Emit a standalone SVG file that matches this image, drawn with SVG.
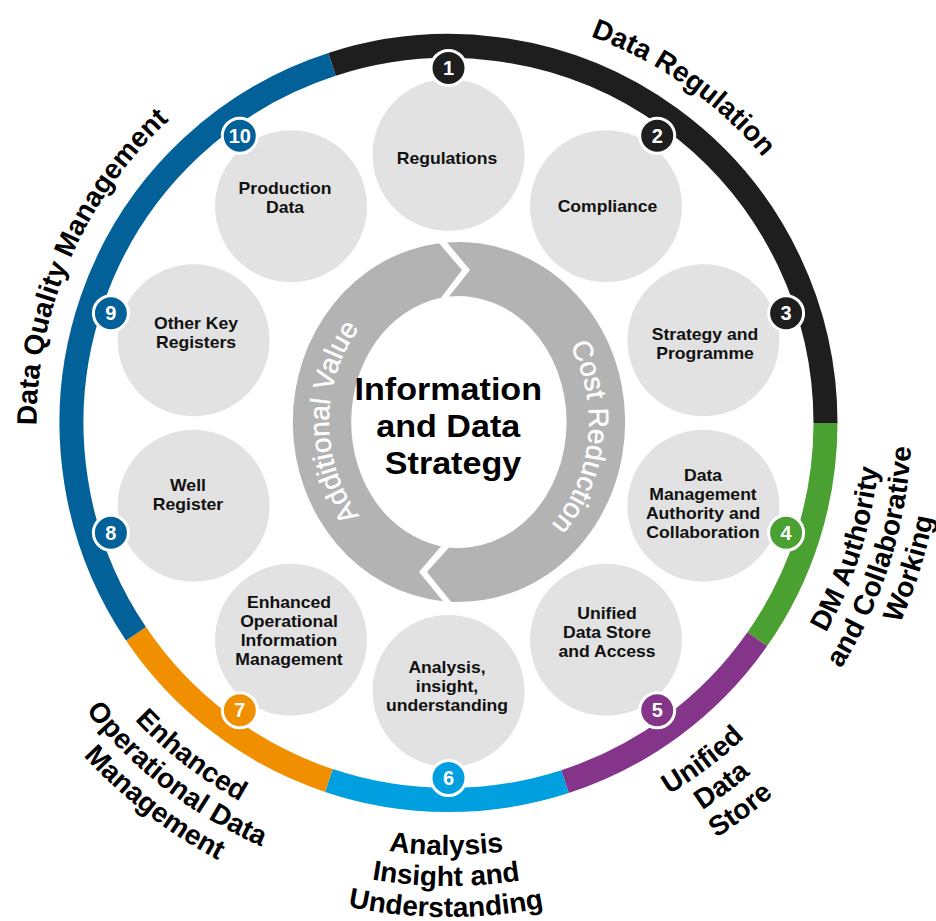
<svg xmlns="http://www.w3.org/2000/svg" width="936" height="921" viewBox="0 0 936 921">
  <style>
    .seg { fill: none; stroke-width: 24; stroke-linecap: butt; }
    .disc { fill: #e2e2e2; }
    .lbl { font-family: "Liberation Sans", Arial, sans-serif; font-weight: bold; font-size: 16px; fill: #111; text-anchor: middle; }
    .title { font-family: "Liberation Sans", Arial, sans-serif; font-weight: bold; font-size: 31px; fill: #000; text-anchor: middle; }
    .badge circle { stroke: #fff; stroke-width: 3; }
    .badge text { font-family: "Liberation Sans", Arial, sans-serif; font-weight: bold; font-size: 20px; fill: #fff; text-anchor: middle; }
    .arc-lbl { font-family: "Liberation Sans", Arial, sans-serif; font-weight: bold; font-size: 28px; fill: #000; }
    .cyc { fill: #b3b3b3; }
    .cyc-lbl { font-family: "Liberation Sans", Arial, sans-serif; font-size: 28px; fill: #fff; stroke: #fff; stroke-width: 0.4; }
  </style>
  <defs>
    <!-- clockwise baselines, glyph tops outward -->
    <path id="p-reg" d="M 412.6 12.6 A 412 412 0 0 1 846.4 316.4"/>
    <path id="p-dqm" d="M 79.8 606.8 A 412 412 0 0 1 331.5 28.0"/>
    <!-- counter-clockwise baselines, glyph tops inward -->
    <path id="p-dm1" d="M 680.6 787.3 A 432 432 0 0 0 847.6 257.7"/>
    <path id="p-dm2" d="M 697.3 813.5 A 463 463 0 0 0 876.3 245.8"/>
    <path id="p-dm3" d="M 713.9 839.6 A 494 494 0 0 0 904.9 234.0"/>
    <path id="p-uds1" d="M 425.9 854.4 A 432 432 0 0 0 869.4 520.2"/>
    <path id="p-uds2" d="M 424.3 885.4 A 463 463 0 0 0 899.6 527.2"/>
    <path id="p-uds3" d="M 422.6 916.3 A 494 494 0 0 0 929.8 534.1"/>
    <path id="p-ais1" d="M 169.1 752.5 A 432 432 0 0 0 724.4 755.4"/>
    <path id="p-ais2" d="M 149.0 776.1 A 463 463 0 0 0 744.2 779.2"/>
    <path id="p-ais3" d="M 129.0 799.8 A 494 494 0 0 0 764.1 803.1"/>
    <path id="p-eod1" d="M 26.4 515.0 A 432 432 0 0 0 465.8 854.7"/>
    <path id="p-eod2" d="M -3.9 521.6 A 463 463 0 0 0 467.1 885.6"/>
    <path id="p-eod3" d="M -34.2 528.2 A 494 494 0 0 0 468.3 916.6"/>
    <!-- baselines inside the central cycle -->
    <path id="p-add" d="M 394 548.4 A 130 146 0 0 1 394 295.6"/>
    <path id="p-cost" d="M 537.2 305.4 A 130 146 0 0 1 509.8 556.4"/>
  </defs>

  <!-- outer coloured ring -->
  <g id="ring">
    <path class="seg" stroke="#1e1e1e" d="M 332.0 64.4 A 377 377 0 0 1 825.5 423"/>
    <path class="seg" stroke="#4ba032" d="M 825.5 423 A 377 377 0 0 1 757.3 639.2"/>
    <path class="seg" stroke="#84358a" d="M 757.3 639.2 A 377 377 0 0 1 565.0 781.6"/>
    <path class="seg" stroke="#009fe0" d="M 565.0 781.6 A 377 377 0 0 1 328.9 780.5"/>
    <path class="seg" stroke="#f09000" d="M 328.9 780.5 A 377 377 0 0 1 136.0 633.8"/>
    <path class="seg" stroke="#03619a" d="M 136.0 633.8 A 377 377 0 0 1 332.0 64.4"/>
  </g>

  <!-- ring headings -->
  <g id="headings" class="arc-lbl">
    <text><textPath href="#p-reg" startOffset="50%" text-anchor="middle">Data Regulation</textPath></text>
    <text><textPath href="#p-dqm" startOffset="50%" text-anchor="middle">Data Quality Management</textPath></text>
    <text><textPath href="#p-dm1" startOffset="50%" text-anchor="middle">DM Authority</textPath></text>
    <text><textPath href="#p-dm2" startOffset="50%" text-anchor="middle">and Collaborative</textPath></text>
    <text><textPath href="#p-dm3" startOffset="50%" text-anchor="middle">Working</textPath></text>
    <text><textPath href="#p-uds1" startOffset="50%" text-anchor="middle">Unified</textPath></text>
    <text><textPath href="#p-uds2" startOffset="50%" text-anchor="middle">Data</textPath></text>
    <text><textPath href="#p-uds3" startOffset="50%" text-anchor="middle">Store</textPath></text>
    <text><textPath href="#p-ais1" startOffset="50%" text-anchor="middle">Analysis</textPath></text>
    <text><textPath href="#p-ais2" startOffset="50%" text-anchor="middle">Insight and</textPath></text>
    <text><textPath href="#p-ais3" startOffset="50%" text-anchor="middle">Understanding</textPath></text>
    <text><textPath href="#p-eod1" startOffset="50%" text-anchor="middle">Enhanced</textPath></text>
    <text><textPath href="#p-eod2" startOffset="50%" text-anchor="middle">Operational Data</textPath></text>
    <text><textPath href="#p-eod3" startOffset="50%" text-anchor="middle">Management</textPath></text>
  </g>

  <!-- central cycle of two chevron arrows -->
  <g id="cycle">
    <path class="cyc" d="M 447 242.5 A 166 180 0 1 1 451 601.8 L 427 572 L 449 547.5 A 108 126 0 1 0 449 296.5 L 470 270 Z"/>
    <path class="cyc" d="M 443 601.2 A 166 180 0 0 1 439 243.3 L 462 270 L 441 297.8 A 108 126 0 0 0 441 546.2 L 419 572 Z"/>
    <text class="cyc-lbl"><textPath href="#p-add" startOffset="50%" text-anchor="middle">Additional Value</textPath></text>
    <text class="cyc-lbl"><textPath href="#p-cost" startOffset="50%" text-anchor="middle">Cost Reduction</textPath></text>
  </g>

  <g id="title">
    <text class="title" transform="translate(453 0) scale(1.1 1)">
      <tspan x="0" y="400">Information</tspan>
      <tspan x="0" y="437">and Data</tspan>
      <tspan x="0" y="474">Strategy</tspan>
    </text>
  </g>

  <!-- numbered topic nodes -->
  <g id="node-1">
    <circle class="disc" cx="448.5" cy="155" r="76"/>
    <text class="lbl" transform="translate(447 0) scale(1.1 1)"><tspan x="0" y="164">Regulations</tspan></text>
    <g class="badge"><circle cx="448.5" cy="68" r="17.5" fill="#1e1e1e"/><text x="448.5" y="75">1</text></g>
  </g>
  <g id="node-2">
    <circle class="disc" cx="606" cy="206.2" r="76"/>
    <text class="lbl" transform="translate(607.5 0) scale(1.1 1)"><tspan x="0" y="212">Compliance</tspan></text>
    <g class="badge"><circle cx="657.2" cy="135.8" r="17.5" fill="#1e1e1e"/><text x="657.2" y="142.8">2</text></g>
  </g>
  <g id="node-3">
    <circle class="disc" cx="703.4" cy="340.2" r="76"/>
    <text class="lbl" transform="translate(705 0) scale(1.1 1)"><tspan x="0" y="340">Strategy and</tspan><tspan x="0" y="359">Programme</tspan></text>
    <g class="badge"><circle cx="786.1" cy="313.3" r="17.5" fill="#1e1e1e"/><text x="786.1" y="320.3">3</text></g>
  </g>
  <g id="node-4">
    <circle class="disc" cx="703.4" cy="505.8" r="76"/>
    <text class="lbl" transform="translate(703 0) scale(1.1 1)"><tspan x="0" y="481">Data</tspan><tspan x="0" y="500">Management</tspan><tspan x="0" y="519">Authority and</tspan><tspan x="0" y="538">Collaboration</tspan></text>
    <g class="badge"><circle cx="786.1" cy="532.7" r="17.5" fill="#4ba032"/><text x="786.1" y="539.7">4</text></g>
  </g>
  <g id="node-5">
    <circle class="disc" cx="606" cy="639.8" r="76"/>
    <text class="lbl" transform="translate(607 0) scale(1.1 1)"><tspan x="0" y="619">Unified</tspan><tspan x="0" y="638">Data Store</tspan><tspan x="0" y="657">and Access</tspan></text>
    <g class="badge"><circle cx="657.2" cy="710.2" r="17.5" fill="#84358a"/><text x="657.2" y="717.2">5</text></g>
  </g>
  <g id="node-6">
    <circle class="disc" cx="448.5" cy="691" r="76"/>
    <text class="lbl" transform="translate(447 0) scale(1.1 1)"><tspan x="0" y="673">Analysis,</tspan><tspan x="0" y="692">insight,</tspan><tspan x="0" y="711">understanding</tspan></text>
    <g class="badge"><circle cx="448.5" cy="778" r="17.5" fill="#009fe0"/><text x="448.5" y="785">6</text></g>
  </g>
  <g id="node-7">
    <circle class="disc" cx="291" cy="639.8" r="76"/>
    <text class="lbl" transform="translate(289 0) scale(1.1 1)"><tspan x="0" y="608">Enhanced</tspan><tspan x="0" y="627">Operational</tspan><tspan x="0" y="646">Information</tspan><tspan x="0" y="665">Management</tspan></text>
    <g class="badge"><circle cx="239.8" cy="710.2" r="17.5" fill="#f09000"/><text x="239.8" y="717.2">7</text></g>
  </g>
  <g id="node-8">
    <circle class="disc" cx="193.6" cy="505.8" r="76"/>
    <text class="lbl" transform="translate(188 0) scale(1.1 1)"><tspan x="0" y="491">Well</tspan><tspan x="0" y="510">Register</tspan></text>
    <g class="badge"><circle cx="110.9" cy="532.7" r="17.5" fill="#03619a"/><text x="110.9" y="539.7">8</text></g>
  </g>
  <g id="node-9">
    <circle class="disc" cx="193.6" cy="340.2" r="76"/>
    <text class="lbl" transform="translate(196 0) scale(1.1 1)"><tspan x="0" y="329">Other Key</tspan><tspan x="0" y="348">Registers</tspan></text>
    <g class="badge"><circle cx="110.9" cy="313.3" r="17.5" fill="#03619a"/><text x="110.9" y="320.3">9</text></g>
  </g>
  <g id="node-10">
    <circle class="disc" cx="291" cy="206.2" r="76"/>
    <text class="lbl" transform="translate(285 0) scale(1.1 1)"><tspan x="0" y="194">Production</tspan><tspan x="0" y="213">Data</tspan></text>
    <g class="badge"><circle cx="239.8" cy="135.8" r="17.5" fill="#03619a"/><text x="239.8" y="142.8">10</text></g>
  </g>
</svg>
